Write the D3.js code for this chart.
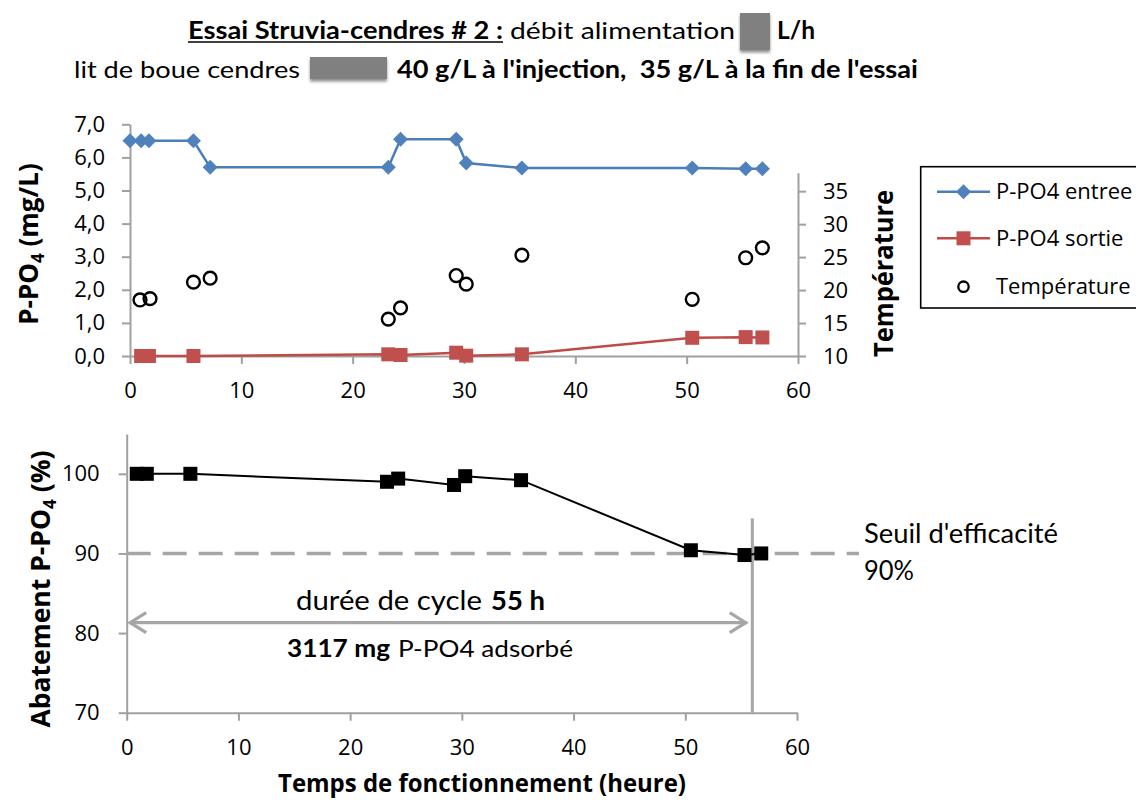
<!DOCTYPE html>
<html><head><meta charset="utf-8">
<script src="https://cdn.jsdelivr.net/npm/d3@7"></script>
<style>body{margin:0;background:#fff} svg{display:block}</style>
</head><body>
<svg id="c" width="1136" height="805"></svg>
<script>
// ---------- DATA ----------
const timeEntree = [0, 1.0, 1.7, 5.7, 7.2, 23.2, 24.3, 29.3, 30.2, 35.2, 50.5, 55.3, 56.8];
const ppo4Entree = [6.5, 6.5, 6.5, 6.5, 5.7, 5.7, 6.55, 6.55, 5.83, 5.68, 5.68, 5.66, 5.66];
const timeSortie = [1.0, 1.7, 5.7, 23.2, 24.3, 29.3, 30.2, 35.2, 50.5, 55.3, 56.8];
const ppo4Sortie = [0.0, 0.0, 0.0, 0.05, 0.03, 0.1, 0.01, 0.05, 0.55, 0.57, 0.56];
const timeTemp = [0.9, 1.8, 5.7, 7.2, 23.2, 24.3, 29.3, 30.2, 35.2, 50.5, 55.3, 56.8];
const temperature = [18.5, 18.7, 21.2, 21.8, 15.6, 17.3, 22.2, 20.9, 25.3, 18.6, 24.9, 26.4];
const timeAbat = [0.9, 1.8, 5.7, 23.3, 24.3, 29.3, 30.3, 35.3, 50.5, 55.3, 56.8];
const abattement = [100, 100, 100, 99.0, 99.4, 98.6, 99.7, 99.2, 90.4, 89.8, 90.0];
const xTicks = [0, 10, 20, 30, 40, 50, 60];
const yTopTicks = [0, 1, 2, 3, 4, 5, 6, 7];
const tempTicks = [10, 15, 20, 25, 30, 35];
const abatTicks = [70, 80, 90, 100];
const seuil = 90;
const cycleEnd = 56;
const legendLabels = ["P-PO4 entree", "P-PO4 sortie", "Température"];

// ---------- SETUP ----------
const svg = d3.select('#c');
const FONT = "'Open Sans', sans-serif";
const FONT2 = "Lato, 'Open Sans', sans-serif";
const AX = '#a0a0a0';
const BLUE = '#4a7ebb', BLUEF = '#4f81bd', RED = '#be4b48';

const defs = svg.append('defs');
const f = defs.append('filter').attr('id','sh').attr('x','-20%').attr('y','-20%').attr('width','140%').attr('height','160%');
f.append('feDropShadow').attr('dx',0).attr('dy',2.5).attr('stdDeviation',1.8).attr('flood-color','#000').attr('flood-opacity',0.45);

function txt(str, x, y, len, size, weight, family, anchor){
  const t = svg.append('text').attr('x',x).attr('y',y).text(str)
    .attr('font-family', family||FONT2).attr('font-size',size).attr('font-weight',weight||'normal')
    .attr('fill','#000').attr('text-anchor',anchor||'start');
  if(len) t.attr('textLength',len).attr('lengthAdjust','spacingAndGlyphs');
  return t;
}

// ---------- TITLE ----------
txt('Essai Struvia-cendres # 2 :', 188, 39, 315, 24, 'bold');
svg.append('line').attr('x1',188).attr('x2',503).attr('y1',42).attr('y2',42).attr('stroke','#000').attr('stroke-width',1.6);
txt('débit alimentation', 510, 39, 225, 24, 'normal');
svg.append('rect').attr('x',740).attr('y',13).attr('width',30).attr('height',37).attr('fill','#808080').attr('filter','url(#sh)');
txt('L/h', 777, 39, 38, 24, 'bold');
txt('lit de boue cendres', 74, 78, 226, 24, 'normal');
svg.append('rect').attr('x',310).attr('y',57).attr('width',77).attr('height',22).attr('fill','#808080').attr('filter','url(#sh)');
txt("40 g/L à l'injection,  35 g/L à la fin de l'essai", 397, 78, 521, 24, 'bold').attr('xml:space','preserve');

// ---------- TOP CHART ----------
const xTop = d3.scaleLinear().domain([0,60]).range([130,798]);
const yTop = d3.scaleLinear().domain([0,7]).range([356,124.3]);
const yTemp = d3.scaleLinear().domain([10,37.8]).range([356,172.7]);

function styleAxis(g){
  g.select('.domain').attr('stroke',AX).attr('stroke-width',2);
  g.selectAll('.tick line').attr('stroke',AX).attr('stroke-width',2);
  g.selectAll('.tick text').attr('font-family',FONT).attr('font-size',22).attr('fill','#000');
}
svg.append('g').attr('transform','translate(130,0)')
  .call(d3.axisLeft(yTop).tickValues(yTopTicks).tickFormat(d=>d.toFixed(1).replace('.',',')).tickSize(8).tickSizeOuter(0).tickPadding(17))
  .call(styleAxis);
svg.append('g').attr('transform','translate(0,356)')
  .call(d3.axisBottom(xTop).tickValues(xTicks).tickSize(8).tickSizeOuter(0).tickPadding(18))
  .call(styleAxis);
svg.append('g').attr('transform','translate(798,0)')
  .call(d3.axisRight(yTemp).tickValues(tempTicks).tickSize(8).tickSizeOuter(0).tickPadding(17))
  .call(styleAxis);

// axis titles (rotated)
const lt = svg.append('text').attr('transform','translate(38,244) rotate(-90)')
  .attr('text-anchor','middle').attr('font-family',FONT).attr('font-weight','bold').attr('font-size',26).attr('fill','#000');
lt.append('tspan').text('P-PO');
lt.append('tspan').text('4').attr('font-size',17).attr('dy',6);
lt.append('tspan').text(' (mg/L)').attr('dy',-6);

svg.append('text').attr('transform','translate(893,273.5) rotate(-90)').attr('text-anchor','middle')
  .attr('font-family',FONT).attr('font-weight','bold').attr('font-size',26).attr('fill','#000')
  .attr('textLength',167).attr('lengthAdjust','spacingAndGlyphs').text('Température');

// series
const entree = timeEntree.map((t,i)=>({x:t,y:ppo4Entree[i]}));
const sortie = timeSortie.map((t,i)=>({x:t,y:ppo4Sortie[i]}));
const temps = timeTemp.map((t,i)=>({x:t,y:temperature[i]}));
const lineTop = d3.line().x(d=>xTop(d.x)).y(d=>yTop(d.y));
svg.append('path').datum(entree).attr('d',lineTop).attr('fill','none').attr('stroke',BLUE).attr('stroke-width',2.5);
svg.append('path').datum(sortie).attr('d',lineTop).attr('fill','none').attr('stroke',RED).attr('stroke-width',2.5);

const diamond = d3.symbol().type(d3.symbolSquare).size(112);
svg.append('g').selectAll('path').data(entree).join('path')
  .attr('d',diamond).attr('transform',d=>`translate(${xTop(d.x)},${yTop(d.y)}) rotate(45)`)
  .attr('fill',BLUEF);
svg.append('g').selectAll('rect').data(sortie).join('rect')
  .attr('x',d=>xTop(d.x)-7).attr('y',d=>yTop(d.y)-7).attr('width',14).attr('height',14).attr('fill','#c0504d');
svg.append('g').selectAll('circle').data(temps).join('circle')
  .attr('cx',d=>xTop(d.x)).attr('cy',d=>yTemp(d.y)).attr('r',6.4)
  .attr('fill','none').attr('stroke','#000').attr('stroke-width',2.4);

// legend
const lg = svg.append('g');
lg.append('rect').attr('x',920.7).attr('y',166.7).attr('width',240).attr('height',141.3)
  .attr('fill','#fff').attr('stroke','#000').attr('stroke-width',1.6);
const rowsY = [191.7, 238.3, 286.7];
lg.append('line').attr('x1',937).attr('x2',990).attr('y1',rowsY[0]).attr('y2',rowsY[0]).attr('stroke',BLUE).attr('stroke-width',2.5);
lg.append('path').attr('d',diamond).attr('transform',`translate(963.5,${rowsY[0]}) rotate(45)`).attr('fill',BLUEF);
lg.append('line').attr('x1',937).attr('x2',990).attr('y1',rowsY[1]).attr('y2',rowsY[1]).attr('stroke',RED).attr('stroke-width',2.5);
lg.append('rect').attr('x',956.5).attr('y',rowsY[1]-7).attr('width',14).attr('height',14).attr('fill','#c0504d');
lg.append('circle').attr('cx',963.5).attr('cy',rowsY[2]).attr('r',5.2).attr('fill','none').attr('stroke','#000').attr('stroke-width',2.3);
legendLabels.forEach((l,i)=>{
  lg.append('text').attr('x',996).attr('y',rowsY[i]).attr('dy','0.35em').text(l)
    .attr('font-family',FONT).attr('font-size',22).attr('fill','#000');
});

// ---------- BOTTOM CHART ----------
const xBot = d3.scaleLinear().domain([0,60]).range([126.7,797]);
const yBot = d3.scaleLinear().domain([70,105]).range([712.7,434]);

svg.append('g').attr('transform','translate(126.7,0)')
  .call(d3.axisLeft(yBot).tickValues(abatTicks).tickSize(8).tickSizeOuter(0).tickPadding(19))
  .call(styleAxis);
svg.append('g').attr('transform','translate(0,712.7)')
  .call(d3.axisBottom(xBot).tickValues(xTicks).tickSize(8).tickSizeOuter(0).tickPadding(19))
  .call(styleAxis);

const bt = svg.append('text').attr('transform','translate(50,589) rotate(-90)')
  .attr('text-anchor','middle').attr('font-family',FONT).attr('font-weight','bold').attr('font-size',26.5).attr('fill','#000');
bt.append('tspan').text('Abatement P-PO');
bt.append('tspan').text('4').attr('font-size',17).attr('dy',6);
bt.append('tspan').text(' (%)').attr('dy',-6);

svg.append('text').attr('x',482).attr('y',792).attr('text-anchor','middle')
  .attr('font-family',FONT).attr('font-weight','bold').attr('font-size',25).attr('fill','#000')
  .attr('textLength',408).attr('lengthAdjust','spacingAndGlyphs').text('Temps de fonctionnement (heure)');

// threshold line
svg.append('line').attr('x1',xBot(0)).attr('x2',xBot(65.55)).attr('y1',yBot(seuil)).attr('y2',yBot(seuil))
  .attr('stroke','#a6a6a6').attr('stroke-width',3.5).attr('stroke-dasharray','24,12');
// vertical cycle line
svg.append('line').attr('x1',xBot(cycleEnd)).attr('x2',xBot(cycleEnd)).attr('y1',yBot(94.4)).attr('y2',yBot(70))
  .attr('stroke','#a6a6a6').attr('stroke-width',3);
// double arrow
const ay = yBot(81.3), ax1 = xBot(0.22), ax2 = xBot(55.5);
svg.append('line').attr('x1',ax1).attr('x2',ax2).attr('y1',ay).attr('y2',ay).attr('stroke','#a6a6a6').attr('stroke-width',3.2);
svg.append('polyline').attr('points',`${ax1+17},${ay-10} ${ax1+1},${ay} ${ax1+17},${ay+10}`)
  .attr('fill','none').attr('stroke','#a6a6a6').attr('stroke-width',3.2).attr('stroke-linejoin','miter');
svg.append('polyline').attr('points',`${ax2-17},${ay-10} ${ax2-1},${ay} ${ax2-17},${ay+10}`)
  .attr('fill','none').attr('stroke','#a6a6a6').attr('stroke-width',3.2).attr('stroke-linejoin','miter');

// annotations
txt('durée de cycle', 296, 610, 186, 27, 'normal');
txt('55 h', 491, 610, 54, 27, 'bold');
txt('3117 mg', 287, 657, 103, 24, 'bold');
txt('P-PO4 adsorbé', 398, 657, 175, 24, 'normal');
txt("Seuil d'efficacité", 864, 543, 194, 26, 'normal');
txt('90%', 864, 580, 50, 26, 'normal');

// data
const abat = timeAbat.map((t,i)=>({x:t,y:abattement[i]}));
svg.append('path').datum(abat).attr('d',d3.line().x(d=>xBot(d.x)).y(d=>yBot(d.y)))
  .attr('fill','none').attr('stroke','#000').attr('stroke-width',2);
svg.append('g').selectAll('rect').data(abat).join('rect')
  .attr('x',d=>xBot(d.x)-7).attr('y',d=>yBot(d.y)-7).attr('width',14).attr('height',14).attr('fill','#000');
</script>
</body></html>
